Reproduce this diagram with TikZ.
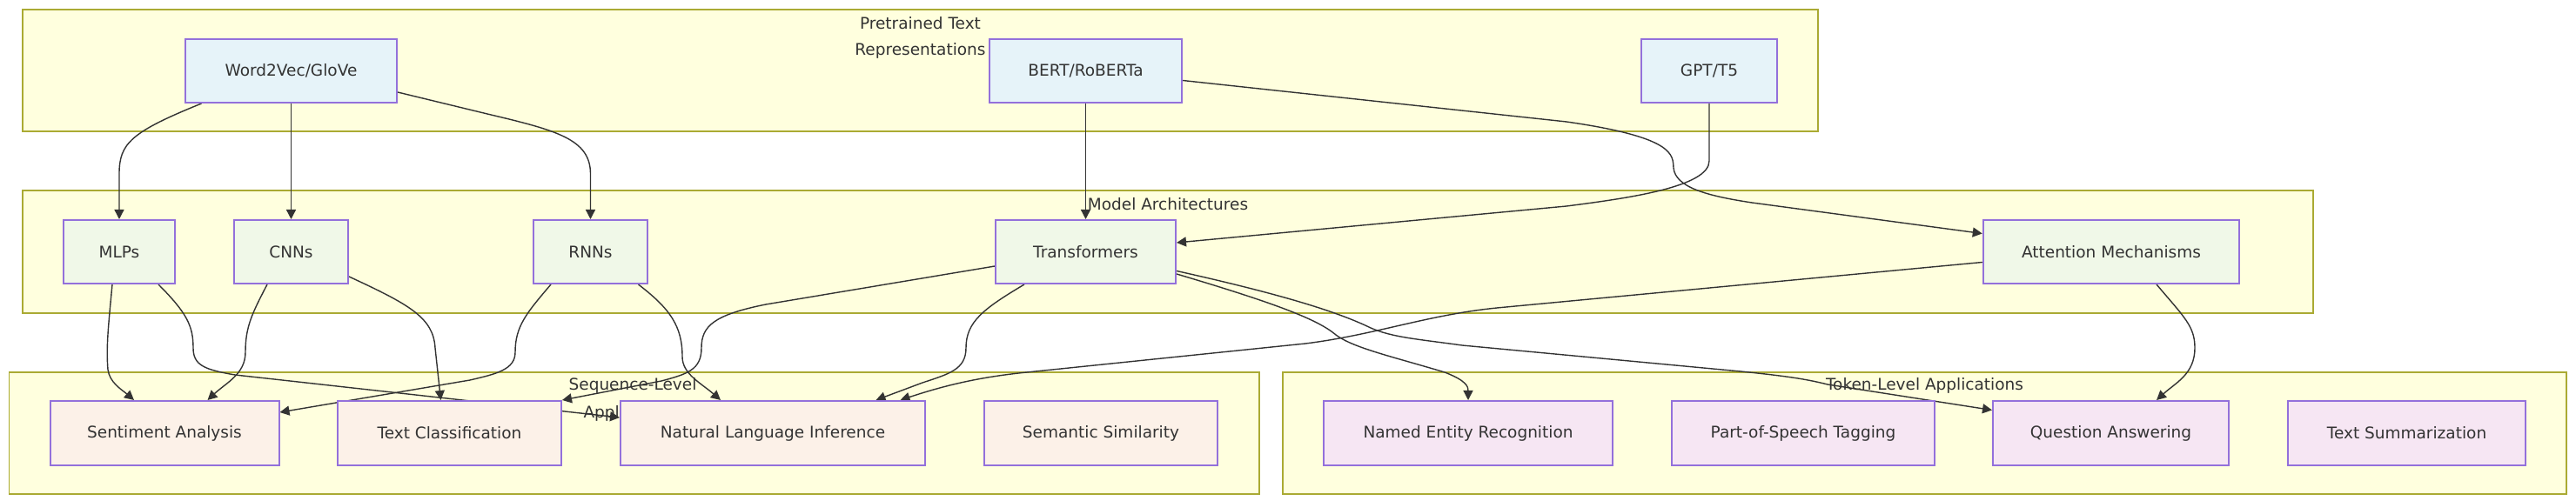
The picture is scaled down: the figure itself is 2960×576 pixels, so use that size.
\documentclass[tikz,border=0pt]{standalone}
\usepackage{fontspec}
\setmainfont{DejaVu Sans}
\usetikzlibrary{arrows.meta,calc}
\definecolor{clfill}{HTML}{FFFFDE}
\definecolor{clstroke}{HTML}{AAAA33}
\definecolor{nstroke}{HTML}{9370DB}
\definecolor{fpre}{HTML}{E6F3F9}
\definecolor{farch}{HTML}{F0F8E8}
\definecolor{fseq}{HTML}{FCF1E8}
\definecolor{ftok}{HTML}{F6E6F3}
\definecolor{textc}{HTML}{333333}
\definecolor{edgec}{HTML}{333333}
\pgfdeclarelayer{bg}
\pgfdeclarelayer{edgelayer}
\pgfsetlayers{bg,edgelayer,main}
\tikzset{
  box/.style={draw=nstroke, line width=1pt, inner sep=0pt, text=textc,
    font=\fontsize{9.25}{11}\selectfont, minimum height=36.5pt},
  prebox/.style={box, fill=fpre},
  archbox/.style={box, fill=farch},
  seqbox/.style={box, fill=fseq, minimum height=37pt},
  tokbox/.style={box, fill=ftok, minimum height=37pt},
  cluster/.style={draw=clstroke, fill=clfill, line width=0.7pt},
  cllabel/.style={inner sep=0pt, text=textc, font=\fontsize{9.25}{11}\selectfont},
  edge/.style={draw=edgec, line width=0.7pt, -{Triangle[length=5.5pt,width=5.5pt]}}
}
\begin{document}
\begin{tikzpicture}[x=0.5pt,y=-0.5pt]
\useasboundingbox (0,0) rectangle (2960,576);
% clusters
\begin{pgfonlayer}{bg}
\draw[cluster] (26,11) rectangle (2089,151);
\draw[cluster] (26,219) rectangle (2658,360);
\draw[cluster] (10.5,428) rectangle (1447,568);
\draw[cluster] (1474,428) rectangle (2949,568);
\node[cllabel] (l1a) at (1057.5,26.5) {Pretrained Text};
\node[cllabel] (l1b) at (1057.5,58.5) {Representations};
\node[cllabel] (l2) at (1342,235) {Model Architectures};
\node[cllabel] (l3a) at (727,443) {Sequence-Level};
\node[cllabel] (l3b) at (727,475) {Applications};
\node[cllabel] (l4) at (2211.5,443) {Token-Level Applications};
\end{pgfonlayer}
% nodes
\node[prebox, minimum width=121.5pt] (w2v) at (334.5,81.5) {Word2Vec/GloVe};
\node[prebox, minimum width=110.5pt] (bert) at (1247.5,81.5) {BERT/RoBERTa};
\node[prebox, minimum width=78pt] (gpt) at (1964,81.5) {GPT/T5};
\node[archbox, minimum width=64pt] (mlp) at (137,289.5) {MLPs};
\node[archbox, minimum width=65.5pt] (cnn) at (334.5,289.5) {CNNs};
\node[archbox, minimum width=65.5pt] (rnn) at (678.5,289.5) {RNNs};
\node[archbox, minimum width=103.5pt] (trans) at (1247.5,289.5) {Transformers};
\node[archbox, minimum width=147.25pt] (attn) at (2426,289.5) {Attention Mechanisms};
\node[seqbox, minimum width=131.5pt] (sa) at (189,498) {Sentiment Analysis};
\node[seqbox, minimum width=128.5pt] (tc) at (516.5,498) {Text Classification};
\node[seqbox, minimum width=175pt] (nli) at (888,498) {Natural Language Inference};
\node[seqbox, minimum width=134.25pt] (ss) at (1265,498) {Semantic Similarity};
\node[tokbox, minimum width=166pt] (ner) at (1687,498) {Named Entity Recognition};
\node[tokbox, minimum width=151pt] (pos) at (2072,498) {Part-of-Speech Tagging};
\node[tokbox, minimum width=135.5pt] (qa) at (2425.5,498) {Question Answering};
\node[tokbox, minimum width=136.5pt] (ts) at (2765.5,498) {Text Summarization};
% edges
\begin{pgfonlayer}{edgelayer}
\draw[edge] ($(w2v.south)+(-103,0)$) .. controls (150,152) and (137,165) .. (137,200) -- (mlp.north);
\draw[edge] (w2v.south) -- (cnn.north);
\draw[edge] ($(w2v.east)+(0,24.5)$) -- (560,131) .. controls (640,150) and (678.5,160) .. (678.5,200) -- (rnn.north);
\draw[edge] (bert.south) -- (trans.north);
\draw[edge] ($(bert.east)+(0,11)$) -- (1800,140) .. controls (1925,158) and (1922,178) .. (1923,193) .. controls (1925,215) and (1960,225) .. (2013,233) -- ($(attn.west)+(0,-21)$);
\draw[edge] (gpt.south) -- (1964,185) .. controls (1964,215) and (1870,228) .. (1800,237) -- ($(trans.east)+(0,-10.5)$);
\draw[edge] ($(mlp.south)+(-8,0)$) .. controls (124,380) and (122,400) .. (124,425) .. controls (126,440) and (140,448) .. ($(sa.north)+(-35,0)$);
\draw[edge] ($(mlp.south)+(45,0)$) .. controls (215,360) and (222,375) .. (222,400) .. controls (222,420) and (235,425) .. (270,431) -- ($(nli.west)+(0,-18)$);
\draw[edge] ($(cnn.south)+(-27.5,0)$) .. controls (290,360) and (282,375) .. (282,405) .. controls (282,430) and (260,440) .. ($(sa.north)+(49.5,0)$);
\draw[edge] ($(cnn.east)+(0,28.5)$) .. controls (470,350) and (498,365) .. (500,400) -- ($(tc.north)+(-10,0)$);
\draw[edge] ($(rnn.south)+(-45.5,0)$) .. controls (605,360) and (592,375) .. (592,405) .. controls (592,425) and (570,430) .. (540,437) -- ($(sa.east)+(0,-24)$);
\draw[edge] ($(rnn.south)+(55,0)$) .. controls (770,355) and (784,375) .. (784,410) .. controls (784,430) and (805,440) .. ($(nli.north)+(-60,0)$);
\draw[edge] ($(trans.west)+(0,16.5)$) -- (880,350) .. controls (820,362) and (806,375) .. (806,400) .. controls (806,425) and (790,430) .. (760,438) -- (tc.north east);
\draw[edge] ($(trans.south)+(-70.5,0)$) .. controls (1130,355) and (1110,370) .. (1110,400) .. controls (1110,425) and (1090,430) .. (1060,440) -- ($(nli.north)+(118.5,0)$);
\draw[edge] ($(attn.west)+(0,12)$) -- (1720,354) .. controls (1640,362) and (1580,385) .. (1500,395) -- (1180,428) .. controls (1120,434) and (1080,445) .. ($(nli.north)+(146.5,0)$);
\draw[edge] ($(trans.east)+(0,25.5)$) .. controls (1470,350) and (1515,368) .. (1535,385) .. controls (1555,400) and (1600,410) .. (1660,428) .. controls (1686,438) and (1687,445) .. (ner.north);
\draw[edge] ($(trans.east)+(0,22)$) .. controls (1480,340) and (1540,360) .. (1575,377) .. controls (1600,388) and (1630,390) .. (1680,397) -- (2000,427) .. controls (2060,433) and (2080,437) .. (2100,442) -- ($(qa.west)+(0,-26.5)$);
\draw[edge] ($(attn.south)+(52,0)$) .. controls (2510,365) and (2522,375) .. (2522,400) .. controls (2522,430) and (2500,440) .. ($(qa.north)+(52.5,0)$);
\end{pgfonlayer}
\end{tikzpicture}
\end{document}
